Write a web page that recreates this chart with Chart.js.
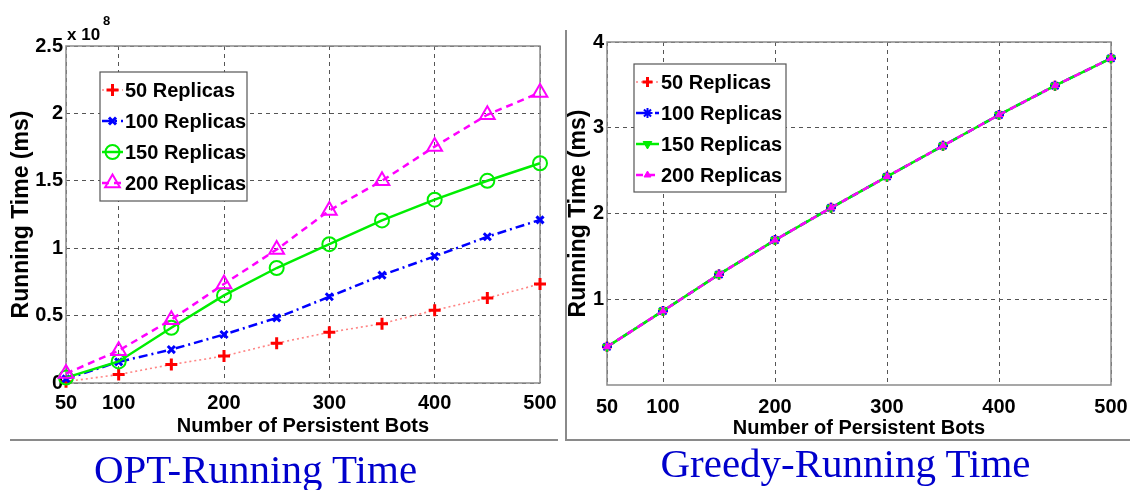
<!DOCTYPE html>
<html>
<head>
<meta charset="utf-8">
<script src="https://cdn.jsdelivr.net/npm/chart.js@4.4.1/dist/chart.umd.min.js"></script>
<style>
    body { margin: 0; background: #fff; width: 1130px; height: 490px; overflow: hidden; position: relative; }
    #leftBox { position: absolute; left: 0; top: 0; width: 560px; height: 440px; }
    #rightBox { position: absolute; left: 566px; top: 30px; width: 564px; height: 410px; }
    .rule { position: absolute; background: #8a8a8a; }
    .cap { position: absolute; color: #0000cc; font-family: 'Liberation Serif', 'Times New Roman', serif;
        font-size: 41px; line-height: 41px; white-space: nowrap; text-align: center; }
</style>
</head>
<body>
<div id="leftBox"><canvas id="optChart"></canvas></div>
<div id="rightBox"><canvas id="greedyChart"></canvas></div>
<div class="rule" style="left:10px;top:439px;width:548px;height:2px"></div>
<div class="rule" style="left:565px;top:30px;width:2px;height:411px"></div>
<div class="rule" style="left:565px;top:439px;width:565px;height:2px"></div>
<div class="cap" style="left:0;top:449px;width:511px">OPT-Running Time</div>
<div class="cap" style="left:590px;top:443px;width:511px">Greedy-Running Time</div>
<script>
// values
const botsX = [50, 100, 150, 200, 250, 300, 350, 400, 450, 500];
const xTicks = [50, 100, 200, 300, 400, 500];
const optYTicks = [0, 0.5, 1, 1.5, 2, 2.5];
const greedyYTicks = [1, 2, 3, 4];
const seriesNames = ['50 Replicas', '100 Replicas', '150 Replicas', '200 Replicas'];

// OPT, x 10^8 ms
const opt50 = [0.01, 0.063, 0.137, 0.2, 0.295, 0.376, 0.44, 0.54, 0.63, 0.735];
const opt100 = [0.03, 0.157, 0.248, 0.36, 0.483, 0.64, 0.80, 0.94, 1.085, 1.21];
const opt150 = [0.04, 0.16, 0.41, 0.65, 0.853, 1.03, 1.206, 1.36, 1.5, 1.63];
const opt200 = [0.07, 0.24, 0.47, 0.735, 0.99, 1.28, 1.5, 1.754, 1.99, 2.155];

// Greedy, ms (the four lines sit on top of each other)
const greedy50 = [0.445, 0.864, 1.29, 1.69, 2.066, 2.43, 2.79, 3.15, 3.49, 3.81];
const greedy100 = [0.445, 0.864, 1.29, 1.69, 2.066, 2.43, 2.79, 3.15, 3.49, 3.81];
const greedy150 = [0.445, 0.864, 1.29, 1.69, 2.066, 2.43, 2.79, 3.15, 3.49, 3.81];
const greedy200 = [0.445, 0.864, 1.29, 1.69, 2.066, 2.43, 2.79, 3.15, 3.49, 3.81];

const sans = "'Liberation Sans', Arial, sans-serif";
const tickFont = { family: sans, size: 20, weight: 'bold' };
const xTitleFont = { family: sans, size: 20, weight: 'bold', lineHeight: 1 };
const yTitleFont = { family: sans, size: 23, weight: 'bold', lineHeight: 1 };

function pts(vals) {
    return botsX.map((x, i) => ({ x: x, y: vals[i] }));
}

const lineLooks = [
    { color: '#ff0000', line: 'rgba(255,80,80,0.7)', width: 1.6, dash: [2, 3] },
    { color: '#0000ff', line: '#0000ff', width: 2.5, dash: [9, 4, 2, 4] },
    { color: '#00ee00', line: '#00ee00', width: 2.5, dash: [] },
    { color: '#ff00ff', line: '#ff00ff', width: 2.5, dash: [7, 5] }
];
const optMarks = [
    { style: 'cross', r: 6, bw: 3, fill: false, rot: 0 },
    { style: 'crossRot', r: 5, bw: 3, fill: false, rot: 0 },
    { style: 'circle', r: 7, bw: 2, fill: false, rot: 0 },
    { style: 'triangle', r: 8.5, bw: 2, fill: false, rot: 0 }
];
const greedyMarks = [
    { style: 'cross', r: 5, bw: 3, fill: false, rot: 0 },
    { style: 'star', r: 5, bw: 2, fill: false, rot: 0 },
    { style: 'triangle', r: 5, bw: 1, fill: true, rot: 180 },
    { style: 'triangle', r: 4, bw: 1, fill: true, rot: 0 }
];

function makeSets(series, marks) {
    return series.map((vals, i) => ({
        label: seriesNames[i],
        data: pts(vals),
        borderColor: lineLooks[i].line,
        borderWidth: lineLooks[i].width,
        borderDash: lineLooks[i].dash,
        pointStyle: marks[i].style,
        pointRadius: marks[i].r,
        pointHoverRadius: marks[i].r,
        pointBorderWidth: marks[i].bw,
        pointRotation: marks[i].rot,
        pointBorderColor: lineLooks[i].color,
        pointBackgroundColor: marks[i].fill ? lineLooks[i].color : 'rgba(0,0,0,0)',
        fill: false,
        tension: 0,
        clip: false,
        order: 3 - i
    }));
}

function frameAndLegend(box, rows, sample, marks) {
    return {
        id: 'frameLegend',
        beforeDatasetsDraw(chart) {
            const a = chart.chartArea;
            const ctx = chart.ctx;
            ctx.save();
            ctx.strokeStyle = '#8a8a8a';
            ctx.lineWidth = 1.5;
            ctx.strokeRect(a.left, a.top, a.right - a.left, a.bottom - a.top);
            ctx.restore();
        },
        afterDatasetsDraw(chart) {
            const ctx = chart.ctx;
            ctx.save();
            ctx.fillStyle = '#fff';
            ctx.fillRect(box.x, box.y, box.w, box.h);
            ctx.strokeStyle = '#555';
            ctx.lineWidth = 1.2;
            ctx.strokeRect(box.x, box.y, box.w, box.h);
            rows.forEach((y, i) => {
                ctx.strokeStyle = lineLooks[i].line;
                ctx.lineWidth = lineLooks[i].width;
                ctx.setLineDash(lineLooks[i].dash);
                ctx.beginPath();
                ctx.moveTo(sample.x0, y);
                ctx.lineTo(sample.x1, y);
                ctx.stroke();
                ctx.setLineDash([]);
                ctx.strokeStyle = lineLooks[i].color;
                ctx.fillStyle = marks[i].fill ? lineLooks[i].color : 'rgba(0,0,0,0)';
                ctx.lineWidth = marks[i].bw;
                if (Chart.helpers && Chart.helpers.drawPoint) {
                    Chart.helpers.drawPoint(ctx, {
                        pointStyle: marks[i].style, radius: marks[i].r, rotation: marks[i].rot,
                        borderWidth: marks[i].bw
                    }, (sample.x0 + sample.x1) / 2, y);
                }
                ctx.fillStyle = '#000';
                ctx.font = 'bold 20px ' + sans;
                ctx.textBaseline = 'middle';
                ctx.textAlign = 'left';
                ctx.fillText(seriesNames[i], sample.tx, y + 1);
            });
            ctx.restore();
        }
    };
}

function axes(yTicks, yMax, yWidth, xHeight, yTitlePad, xTitlePad, xTickPad) {
    return {
        x: {
            type: 'linear', min: 50, max: 500,
            afterBuildTicks: s => { s.ticks = xTicks.map(v => ({ value: v })); },
            afterFit: s => { s.height = xHeight; s.paddingLeft = 0; s.paddingRight = 0; },
            grid: { color: '#555', lineWidth: 1, drawTicks: false },
            border: { display: false, dash: [4, 4] },
            ticks: { font: tickFont, color: '#000', padding: xTickPad, maxRotation: 0, autoSkip: false },
            title: { display: true, text: 'Number of Persistent Bots', font: xTitleFont, color: '#000',
                padding: { top: 0, bottom: xTitlePad } }
        },
        y: {
            type: 'linear', min: 0, max: yMax,
            afterBuildTicks: s => { s.ticks = yTicks.map(v => ({ value: v })); },
            afterFit: s => { s.width = yWidth; s.paddingTop = 0; s.paddingBottom = 0; },
            grid: { color: '#555', lineWidth: 1, drawTicks: false },
            border: { display: false, dash: [4, 4] },
            ticks: { font: tickFont, color: '#000', padding: 3, callback: v => String(v) },
            title: { display: true, text: 'Running Time (ms)', font: yTitleFont, color: '#000',
                padding: { top: yTitlePad, bottom: 0 } }
        }
    };
}

const exponentLabel = {
    id: 'exponentLabel',
    afterDraw(chart) {
        const ctx = chart.ctx;
        ctx.save();
        ctx.fillStyle = '#000';
        ctx.textAlign = 'left';
        ctx.textBaseline = 'alphabetic';
        ctx.font = 'bold 17px ' + sans;
        ctx.fillText('x 10', 67, 40);
        ctx.font = 'bold 13px ' + sans;
        ctx.fillText('8', 103, 25);
        ctx.restore();
    }
};

const baseOptions = (scales) => ({
    responsive: true,
    maintainAspectRatio: false,
    animation: false,
    events: [],
    layout: {},
    plugins: { legend: { display: false }, tooltip: { enabled: false } },
    scales: scales
});

const optOpts = baseOptions(axes(optYTicks, 2.5, 66, 57, 10, 4, 8));
optOpts.layout.padding = { left: 0, right: 20, top: 46, bottom: 0 };
new Chart(document.getElementById('optChart'), {
    type: 'line',
    data: { datasets: makeSets([opt50, opt100, opt150, opt200], optMarks) },
    options: optOpts,
    plugins: [frameAndLegend({ x: 100, y: 72, w: 147, h: 129 }, [90, 121, 152, 183],
        { x0: 102, x1: 123, tx: 125 }, optMarks), exponentLabel]
});

const greedyOpts = baseOptions(axes(greedyYTicks, 4, 41, 55, 1, 2, 10));
greedyOpts.layout.padding = { left: 0, right: 19, top: 12, bottom: 0 };
new Chart(document.getElementById('greedyChart'), {
    type: 'line',
    data: { datasets: makeSets([greedy50, greedy100, greedy150, greedy200], greedyMarks) },
    options: greedyOpts,
    plugins: [frameAndLegend({ x: 68, y: 34, w: 152, h: 128 }, [52, 83, 114, 145],
        { x0: 70, x1: 93, tx: 95 }, greedyMarks)]
});
</script>
</body>
</html>
